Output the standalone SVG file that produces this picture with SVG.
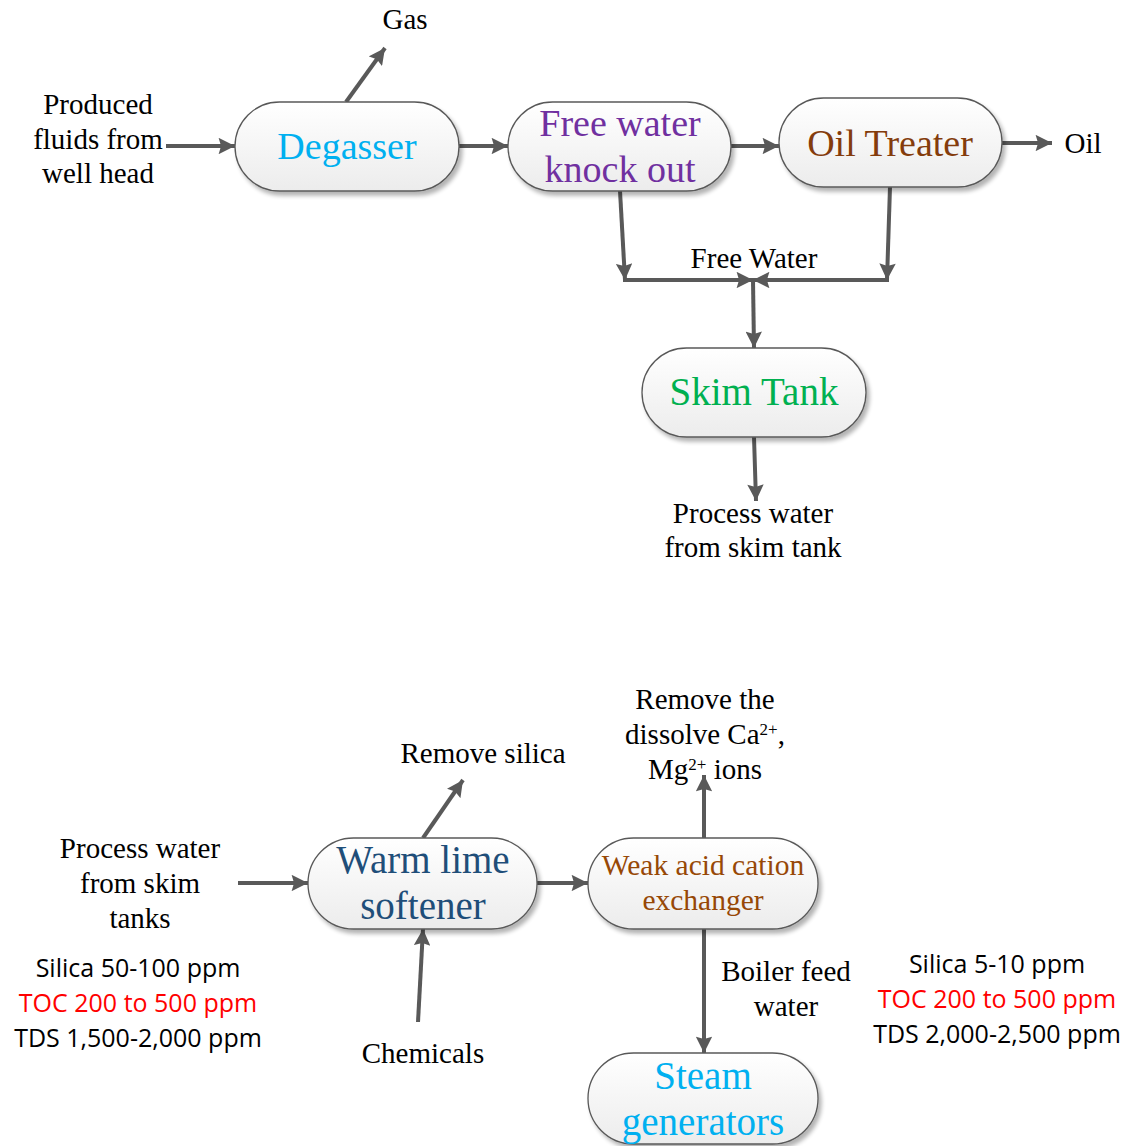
<svg xmlns="http://www.w3.org/2000/svg" width="1130" height="1146" viewBox="0 0 1130 1146">
<defs>
<linearGradient id="g" x1="0" y1="0" x2="0" y2="1">
<stop offset="0" stop-color="#ffffff"/>
<stop offset="1" stop-color="#ececec"/>
</linearGradient>
<filter id="sh" x="-10%" y="-10%" width="130%" height="140%">
<feGaussianBlur in="SourceAlpha" stdDeviation="2"/>
<feOffset dx="3" dy="4" result="b"/>
<feComponentTransfer><feFuncA type="linear" slope="0.3"/></feComponentTransfer>
<feMerge><feMergeNode/><feMergeNode in="SourceGraphic"/></feMerge>
</filter>
<marker id="ah" viewBox="0 0 10 10" refX="10" refY="5" markerWidth="4.4" markerHeight="4.1" orient="auto" markerUnits="strokeWidth">
<path d="M0,0 L10,5 L0,10 L1.5,5 Z" fill="#595959"/>
</marker>
</defs>
<style>
.node{fill:url(#g);stroke:#595959;stroke-width:1.3;filter:url(#sh)}
.c{fill:none;stroke:#595959;stroke-width:4;stroke-linecap:butt}
.a{marker-end:url(#ah)}
.t{font-family:"Liberation Serif","Times New Roman",serif;font-size:29px;fill:#000;text-anchor:middle}
.n{font-family:"Liberation Serif","Times New Roman",serif;font-size:39px;text-anchor:middle}
.s{font-family:"Open Sans","Liberation Sans",Arial,sans-serif;font-size:25px;fill:#000;text-anchor:middle}
.red{fill:#ff0000}
</style>
<rect width="1130" height="1146" fill="#ffffff"/>

<g id="connectors">
<line class="c a" x1="166" y1="146" x2="235" y2="146"/>
<line class="c a" x1="346" y1="102" x2="385" y2="48"/>
<line class="c a" x1="459" y1="146" x2="508" y2="146"/>
<line class="c a" x1="731" y1="146" x2="779" y2="146"/>
<line class="c a" x1="1002" y1="143" x2="1052" y2="143"/>
<line class="c a" x1="620" y1="191" x2="625" y2="280"/>
<line class="c a" x1="890" y1="187" x2="887" y2="280"/>
<line class="c a" x1="623" y1="280" x2="753" y2="280"/>
<line class="c a" x1="889" y1="280" x2="753" y2="280"/>
<line class="c a" x1="753" y1="280" x2="754" y2="348"/>
<line class="c a" x1="754" y1="437" x2="756" y2="501"/>
<line class="c a" x1="238" y1="883" x2="308" y2="883"/>
<line class="c a" x1="423" y1="838" x2="463" y2="780"/>
<line class="c a" x1="418" y1="1022" x2="423" y2="929"/>
<line class="c a" x1="537" y1="883" x2="588" y2="883"/>
<line class="c a" x1="704" y1="838" x2="704" y2="775"/>
<line class="c a" x1="704" y1="929" x2="704" y2="1053"/>
</g>

<g id="degasser">
<rect class="node" x="235" y="102" width="224" height="89" rx="44.5"/>
<text class="n" x="347" y="159" fill="#00b0f0" style="font-size:38px">Degasser</text>
</g>
<g id="fwko">
<rect class="node" x="508" y="102" width="223" height="89" rx="44.5"/>
<text class="n" x="620" y="136" fill="#7030a0" style="font-size:38px">Free water</text>
<text class="n" x="620" y="182" fill="#7030a0" style="font-size:38px">knock out</text>
</g>
<g id="oiltreater">
<rect class="node" x="779" y="98" width="223" height="89" rx="44.5"/>
<text class="n" x="890" y="156" fill="#843c0c" style="font-size:38px">Oil Treater</text>
</g>
<g id="skimtank">
<rect class="node" x="642" y="348" width="224" height="89" rx="44.5"/>
<text class="n" x="754" y="405" fill="#00b050">Skim Tank</text>
</g>
<g id="warmlime">
<rect class="node" x="308" y="838" width="229" height="91" rx="45.5"/>
<text class="n" x="423" y="873" fill="#1f4e79">Warm lime</text>
<text class="n" x="423" y="919" fill="#1f4e79">softener</text>
</g>
<g id="wac">
<rect class="node" x="588" y="838" width="230" height="91" rx="45.5"/>
<text class="n" x="703" y="875" fill="#974806" style="font-size:29.5px">Weak acid cation</text>
<text class="n" x="703" y="910" fill="#974806" style="font-size:29.5px">exchanger</text>
</g>
<g id="steam">
<rect class="node" x="588" y="1053" width="230" height="91" rx="45.5"/>
<text class="n" x="703" y="1089" fill="#00b0f0">Steam</text>
<text class="n" x="703" y="1135" fill="#00b0f0">generators</text>
</g>

<g id="labels">
<text class="t" x="405" y="29">Gas</text>
<text class="t" x="98" y="114">Produced</text>
<text class="t" x="98" y="149">fluids from</text>
<text class="t" x="98" y="183">well head</text>
<text class="t" x="1083" y="153">Oil</text>
<text class="t" x="754" y="268">Free Water</text>
<text class="t" x="753" y="523">Process water</text>
<text class="t" x="753" y="557">from skim tank</text>
<text class="t" x="483" y="763">Remove silica</text>
<text class="t" x="705" y="709">Remove the</text>
<text class="t" x="705" y="744">dissolve Ca<tspan baseline-shift="super" font-size="17">2+</tspan>,</text>
<text class="t" x="705" y="779">Mg<tspan baseline-shift="super" font-size="17">2+</tspan> ions</text>
<text class="t" x="140" y="858">Process water</text>
<text class="t" x="140" y="893">from skim</text>
<text class="t" x="140" y="928">tanks</text>
<text class="s" x="138" y="977">Silica 50-100 ppm</text>
<text class="s red" x="138" y="1012">TOC 200 to 500 ppm</text>
<text class="s" x="138" y="1047">TDS 1,500-2,000 ppm</text>
<text class="t" x="423" y="1063">Chemicals</text>
<text class="t" x="786" y="981">Boiler feed</text>
<text class="t" x="786" y="1016">water</text>
<text class="s" x="997" y="973">Silica 5-10 ppm</text>
<text class="s red" x="997" y="1008">TOC 200 to 500 ppm</text>
<text class="s" x="997" y="1043">TDS 2,000-2,500 ppm</text>
</g>
</svg>
